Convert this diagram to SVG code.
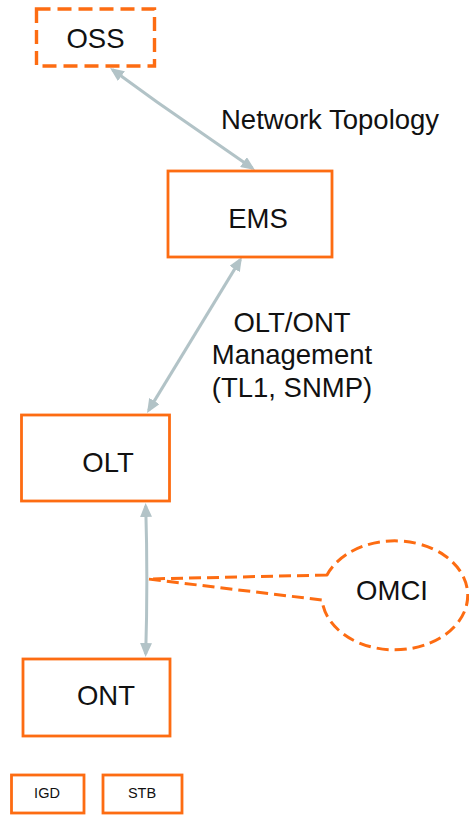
<svg xmlns="http://www.w3.org/2000/svg" width="469" height="816" viewBox="0 0 469 816">
<style>
  .box { fill: #ffffff; stroke: #fd6c12; stroke-width: 2.8; }
  .dash { fill: #ffffff; stroke: #fd6c12; stroke-width: 3.4; stroke-dasharray: 14 7; }
  .call { fill: #ffffff; stroke: #fd6c12; stroke-width: 3; stroke-dasharray: 12 6; stroke-linejoin: round; }
  .conn { fill: none; stroke: #b2c3c7; stroke-width: 3; }
  .t { font-family: "Liberation Sans", Arial, sans-serif; font-size: 27.5px; fill: #111111; }
  .c { text-anchor: middle; }
  .s { font-size: 14.5px; }
</style>
<defs>
  <marker id="ah" viewBox="0 0 14 12" refX="11" refY="6" markerWidth="14" markerHeight="12" markerUnits="userSpaceOnUse" orient="auto-start-reverse">
    <path d="M0,0 L14,6 L0,12 z" fill="#b2c3c7"/>
  </marker>
</defs>
<rect width="469" height="816" fill="#ffffff"/>

<g id="connectors">
  <path class="conn" d="M112.5,69.7 L157,102 L252.5,168.3" marker-start="url(#ah)" marker-end="url(#ah)"/>
  <path class="conn" d="M240.4,259.6 L148.6,410.4" marker-start="url(#ah)" marker-end="url(#ah)"/>
  <path class="conn" d="M145.7,506 Q148,580 145.7,654" marker-start="url(#ah)" marker-end="url(#ah)"/>
</g>

<g id="label-topology">
  <text class="t" x="221" y="129">Network Topology</text>
</g>
<g id="label-mgmt">
  <text class="t c" x="292" y="332">OLT/ONT</text>
  <text class="t c" x="292" y="364">Management</text>
  <text class="t c" x="292" y="397">(TL1, SNMP)</text>
</g>

<g id="oss">
  <rect class="dash" x="36.5" y="9" width="118" height="57"/>
  <text class="t c" x="95.5" y="47.5">OSS</text>
</g>
<g id="ems">
  <rect class="box" x="168" y="171" width="164" height="86"/>
  <text class="t c" x="258" y="228">EMS</text>
</g>
<g id="olt">
  <rect class="box" x="21.5" y="415" width="148" height="86"/>
  <text class="t c" x="108" y="472">OLT</text>
</g>
<g id="ont">
  <rect class="box" x="23" y="659" width="147" height="77"/>
  <text class="t c" x="106" y="705">ONT</text>
</g>
<g id="omci">
  <path class="call" d="M327,575 L148,579 L322,600 A73,54.5 0 1 0 327,575 Z"/>
  <text class="t c" x="392" y="600">OMCI</text>
</g>
<g id="igd">
  <rect class="box" x="11.5" y="775" width="72.5" height="38"/>
  <text class="t c s" x="47" y="798">IGD</text>
</g>
<g id="stb">
  <rect class="box" x="103" y="775" width="79" height="38"/>
  <text class="t c s" x="142" y="798">STB</text>
</g>
</svg>
